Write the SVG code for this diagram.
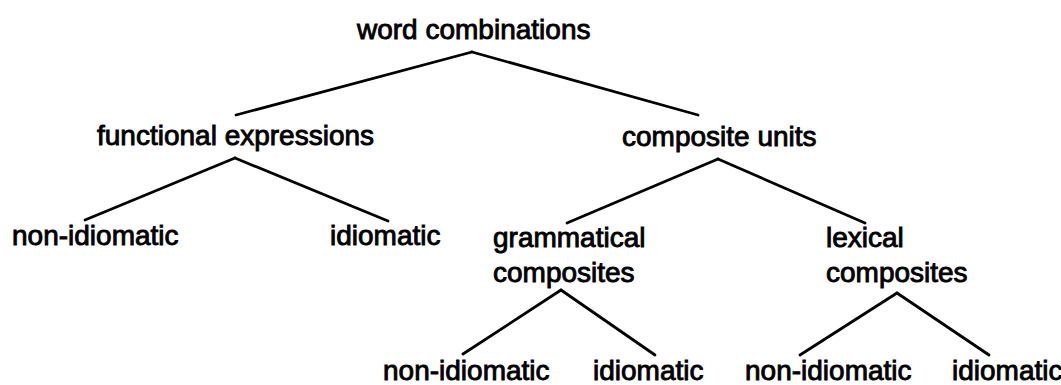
<svg xmlns="http://www.w3.org/2000/svg" width="1061" height="385" viewBox="0 0 1061 385">
<style>
text{font-family:"Liberation Sans",Arial,sans-serif;font-size:28px;fill:#000;stroke:#000;stroke-width:0.9px}
.c line{stroke:#000;stroke-width:2.8;stroke-linecap:round}
</style>
<rect width="1061" height="385" fill="#fff"/>
<g class="c" id="connectors">
<line x1="472" y1="52" x2="236" y2="115"/>
<line x1="472" y1="52" x2="698" y2="115"/>
<line x1="235" y1="158" x2="85" y2="220"/>
<line x1="235" y1="158" x2="388" y2="221"/>
<line x1="718" y1="159" x2="567" y2="223"/>
<line x1="718" y1="159" x2="865" y2="223"/>
<line x1="561" y1="290" x2="463" y2="354"/>
<line x1="561" y1="290" x2="655" y2="355"/>
<line x1="897" y1="293" x2="800" y2="355"/>
<line x1="897" y1="293" x2="989" y2="355"/>
</g>
<g id="n-root"><text x="357" y="39">word combinations</text></g>
<g id="n-functional"><text x="97" y="145">functional expressions</text></g>
<g id="n-composite"><text x="622" y="146">composite units</text></g>
<g id="n-f-nonidiomatic"><text x="12" y="245">non-idiomatic</text></g>
<g id="n-f-idiomatic"><text x="330" y="245">idiomatic</text></g>
<g id="n-grammatical"><text x="493" y="247">grammatical</text><text x="493" y="282">composites</text></g>
<g id="n-lexical"><text x="826" y="247">lexical</text><text x="826" y="282">composites</text></g>
<g id="n-g-nonidiomatic"><text x="383" y="380">non-idiomatic</text></g>
<g id="n-g-idiomatic"><text x="593" y="380">idiomatic</text></g>
<g id="n-l-nonidiomatic"><text x="745" y="380">non-idiomatic</text></g>
<g id="n-l-idiomatic"><text x="952" y="380">idiomatic</text></g>
</svg>
